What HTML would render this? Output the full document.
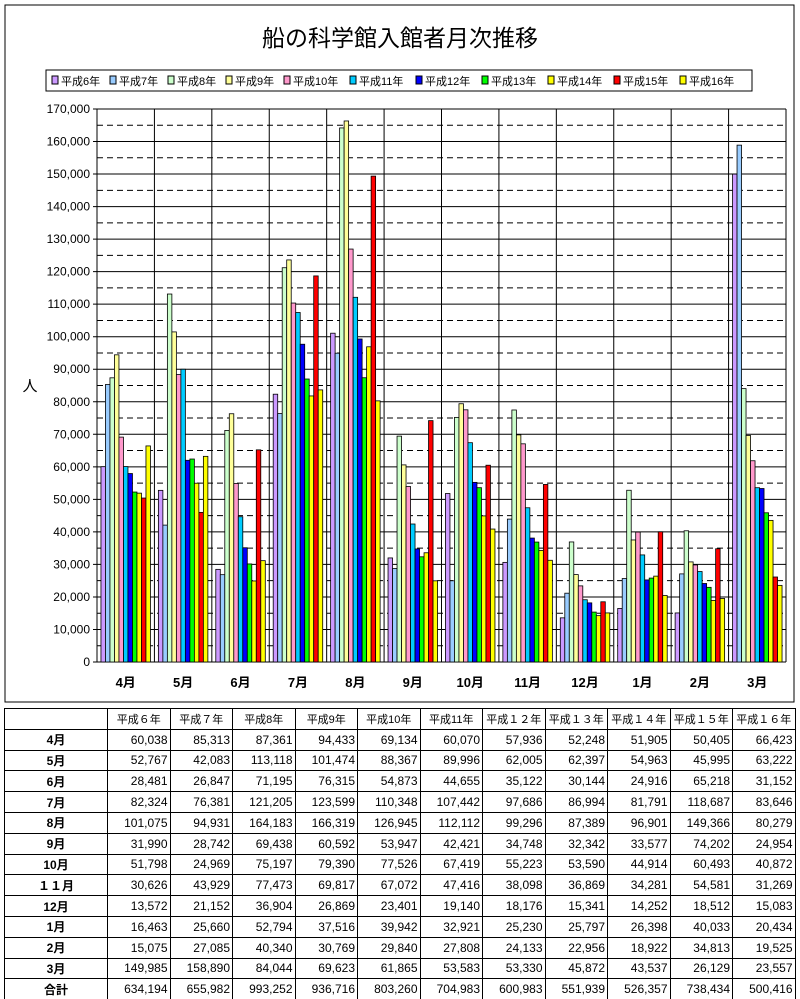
<!DOCTYPE html>
<html><head><meta charset="utf-8"><style>
body{margin:0;background:#fff;font-family:"Liberation Sans","Noto Sans CJK JP",sans-serif;}
#wrap{position:relative;width:800px;height:999px;overflow:hidden;}
table{position:absolute;left:4px;top:708px;border-collapse:collapse;font-size:12px;table-layout:fixed;width:791px;}
td{border:1px solid #000;height:19.8px;padding:0 2px;text-align:right;white-space:nowrap;overflow:hidden;}
td.h{text-align:center;font-weight:bold;}
tr.hd td{text-align:center;font-size:11px;padding:0;}
</style></head><body><div id="wrap">
<svg id="chart" width="800" height="706" style="position:absolute;left:0;top:0"></svg>
<table id="tbl"><colgroup><col style="width:103px"><col span="11" style="width:62.5px"></colgroup></table>
</div>
<script>
const months=["4月","5月","6月","7月","8月","9月","10月","11月","12月","1月","2月","3月"];
const tableMonths=["4月","5月","6月","7月","8月","9月","10月","１１月","12月","1月","2月","3月"];
const seriesNames=["平成6年","平成7年","平成8年","平成9年","平成10年","平成11年","平成12年","平成13年","平成14年","平成15年","平成16年"];
const headerNames=["平成６年","平成７年","平成8年","平成9年","平成10年","平成11年","平成１２年","平成１３年","平成１４年","平成１５年","平成１６年"];
const colors=["#cc99ff","#99ccff","#ccffcc","#ffff99","#ff99cc","#00ccff","#0000ff","#00ff00","#ffff00","#ff0000","#ffff00"];
const h6=[60038,52767,28481,82324,101075,31990,51798,30626,13572,16463,15075,149985];
const h7=[85313,42083,26847,76381,94931,28742,24969,43929,21152,25660,27085,158890];
const h8=[87361,113118,71195,121205,164183,69438,75197,77473,36904,52794,40340,84044];
const h9=[94433,101474,76315,123599,166319,60592,79390,69817,26869,37516,30769,69623];
const h10=[69134,88367,54873,110348,126945,53947,77526,67072,23401,39942,29840,61865];
const h11=[60070,89996,44655,107442,112112,42421,67419,47416,19140,32921,27808,53583];
const h12=[57936,62005,35122,97686,99296,34748,55223,38098,18176,25230,24133,53330];
const h13=[52248,62397,30144,86994,87389,32342,53590,36869,15341,25797,22956,45872];
const h14=[51905,54963,24916,81791,96901,33577,44914,34281,14252,26398,18922,43537];
const h15=[50405,45995,65218,118687,149366,74202,60493,54581,18512,40033,34813,26129];
const h16=[66423,63222,31152,83646,80279,24954,40872,31269,15083,20434,19525,23557];
const totals=[634194,655982,993252,936716,803260,704983,600983,551939,526357,738434,500416];
const yTicks=[0,10000,20000,30000,40000,50000,60000,70000,80000,90000,100000,110000,120000,130000,140000,150000,160000,170000];
const series=[h6,h7,h8,h9,h10,h11,h12,h13,h14,h15,h16];

const NS="http://www.w3.org/2000/svg";
const svg=document.getElementById('chart');
function mk(t,a,p){const e=document.createElementNS(NS,t);for(const k in a)e.setAttribute(k,a[k]);(p||svg).appendChild(e);return e;}
const X0=97,X1=786,Y0=662,Y1=109,YMAX=170000;
const y=v=>Y0-(v/YMAX)*(Y0-Y1);
const cw=(X1-X0)/months.length;
const xc=i=>X0+cw*i;
let e;
e=mk('rect',{x:5,y:5,width:789,height:697,fill:'#fff',stroke:'#000','stroke-width':1});

e=mk('text',{x:400,y:46,'text-anchor':'middle','font-size':23});e.textContent='船の科学館入館者月次推移';

const lg=mk('g',{});
mk('rect',{x:46,y:70,width:706,height:21,fill:'#fff',stroke:'#000'},lg);
const lx=[52,110,168,226,284,350,416,482,548,614,680];
seriesNames.forEach((n,i)=>{const g=mk('g',{},lg);
mk('rect',{x:lx[i],y:76,width:6,height:8,fill:colors[i],stroke:'#000'},g);
const t=mk('text',{x:lx[i]+9,y:85,'font-size':11},g);t.textContent=n;});
for(let v=5000;v<YMAX;v+=10000){mk('line',{x1:X0,x2:X1,y1:y(v),y2:y(v),stroke:'#000','stroke-dasharray':'6,4'});}
yTicks.forEach(v=>{mk('line',{x1:X0-4,x2:X1,y1:y(v),y2:y(v),stroke:'#000'});
const t=mk('text',{x:X0-7,y:y(v)+4,'text-anchor':'end','font-size':12});t.textContent=v.toLocaleString('en-US');
});
for(let i=0;i<=months.length;i++){mk('line',{x1:xc(i),x2:xc(i),y1:Y1,y2:Y0,stroke:'#000'});}
const bw=4.5,gw=bw*11;
months.forEach((m,i)=>{
 const s=xc(i)+(cw-gw)/2;
 series.forEach((d,j)=>{const r=mk('rect',{x:s+j*bw,y:y(d[i]),width:bw,height:Y0-y(d[i]),fill:colors[j],stroke:'#000','stroke-width':0.8});
 });
 const t=mk('text',{x:xc(i)+cw/2,y:687,'text-anchor':'middle','font-size':13,'font-weight':'bold'});t.textContent=m;
 
});
e=mk('text',{x:30,y:391,'text-anchor':'middle','font-size':15});e.textContent='人';

const tb=document.getElementById('tbl');
let tr=document.createElement('tr');tr.className='hd';tb.appendChild(tr);

let td=document.createElement('td');td.className='h';tr.appendChild(td);
headerNames.forEach(n=>{const c=document.createElement('td');c.textContent=n;tr.appendChild(c);});
tableMonths.forEach((m,i)=>{const r=document.createElement('tr');tb.appendChild(r);

const h=document.createElement('td');h.className='h';h.textContent=m;r.appendChild(h);
series.forEach(d=>{const c=document.createElement('td');c.textContent=d[i].toLocaleString('en-US');r.appendChild(c);});});
const r=document.createElement('tr');tb.appendChild(r);

const h=document.createElement('td');h.className='h';h.textContent='合計';r.appendChild(h);
totals.forEach(v=>{const c=document.createElement('td');c.textContent=v.toLocaleString('en-US');r.appendChild(c);});
</script></body></html>
